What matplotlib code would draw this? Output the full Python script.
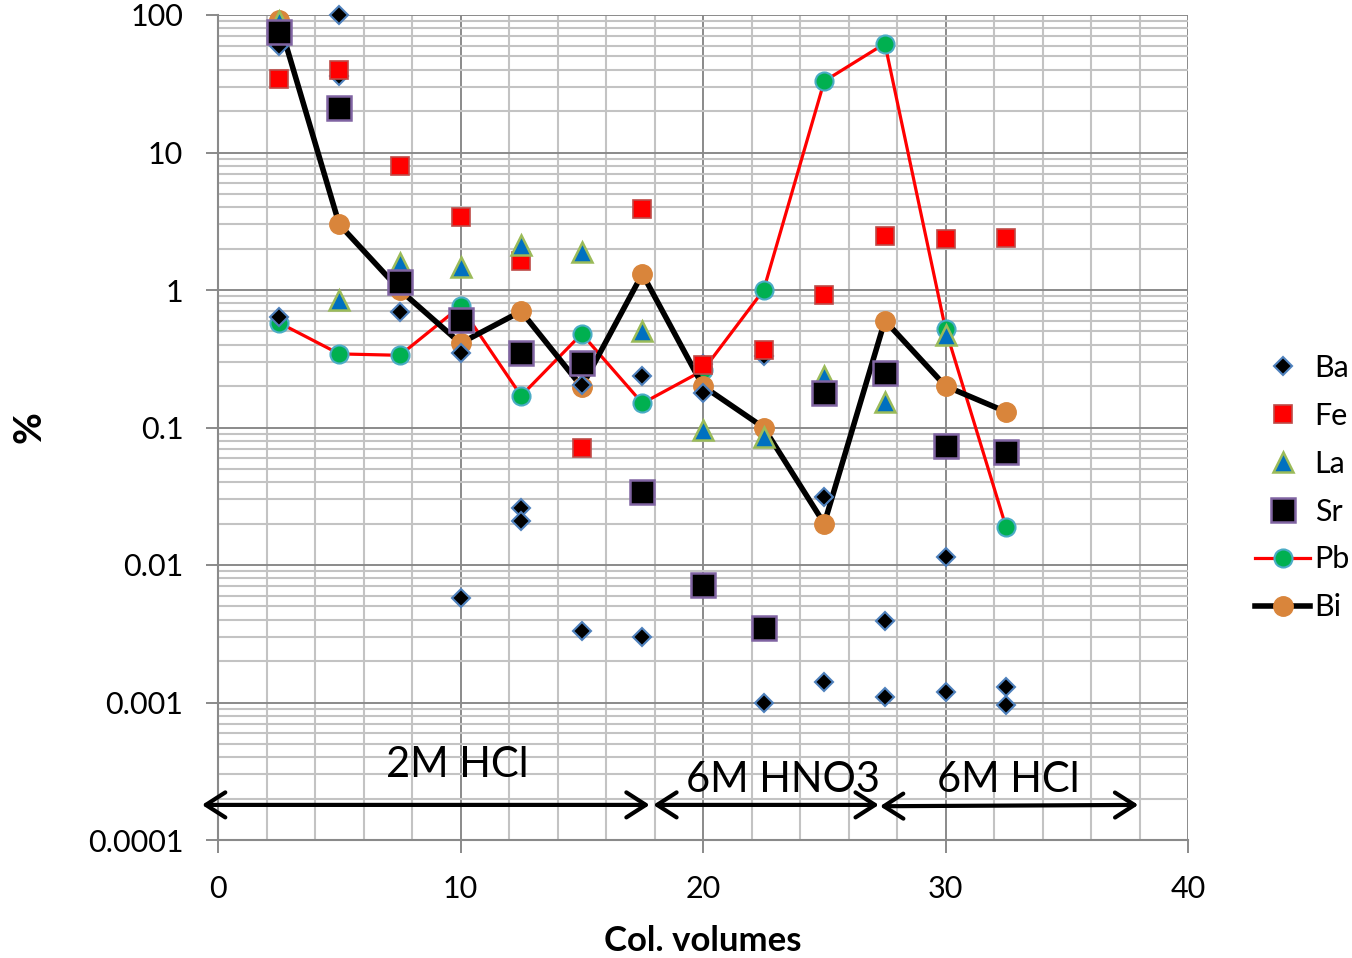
import matplotlib
matplotlib.use("Agg")
import matplotlib.pyplot as plt
from matplotlib.ticker import FixedLocator, MultipleLocator, LogLocator, NullFormatter

plt.rcParams['font.family'] = ['Lato', 'DejaVu Sans']

# ── data ──
cv = [2.5, 5, 7.5, 10, 12.5, 15, 17.5, 20, 22.5, 25, 27.5, 30, 32.5]

ba_x = [2.5, 2.5, 5, 5, 7.5, 10, 10, 12.5, 12.5, 15, 15, 17.5, 17.5,
        20, 20, 22.5, 22.5, 25, 25, 27.5, 27.5, 30, 30, 32.5, 32.5]
ba_y = [0.64, 60, 100, 36, 0.69, 0.35, 0.0058, 0.026, 0.021, 0.204, 0.0033,
        0.238, 0.003, 0.178, 0.29, 0.33, 0.001, 0.031, 0.0014, 0.0039, 0.0011,
        0.0115, 0.0012, 0.0013, 0.00096]

fe = [34.3, 40, 8.0, 3.38, 1.63, 0.0705, 3.88, 0.285, 0.366, 0.92, 2.48, 2.35, 2.39]
la_x = [2.5, 5, 7.5, 10, 12.5, 15, 17.5, 20, 22.5, 25, 27.5, 30]
la = [90, 0.85, 1.56, 1.48, 2.12, 1.9, 0.5, 0.096, 0.085, 0.237, 0.154, 0.47]
sr = [75.6, 21, 1.15, 0.605, 0.35, 0.296, 0.034, 0.0071, 0.0035, 0.177, 0.25, 0.073, 0.066]
pb = [0.58, 0.343, 0.335, 0.76, 0.17, 0.48, 0.15, 0.26, 1.0, 33, 62, 0.52, 0.0188]
bi = [92, 3.0, 1.0, 0.41, 0.70, 0.198, 1.31, 0.2, 0.1, 0.02, 0.6, 0.2, 0.13]

y_ticks = [1e-4, 1e-3, 1e-2, 1e-1, 1, 10, 100]
y_tick_labels = ["0.0001", "0.001", "0.01", "0.1", "1", "10", "100"]
x_ticks = [0, 10, 20, 30, 40]

fig = plt.figure(figsize=(13.52, 9.58), dpi=100)
ax = fig.add_axes([218 / 1352, 118 / 958, 970 / 1352, 825 / 958])
ax.set_yscale("log")
ax.set_xlim(0, 40)
ax.set_ylim(1e-4, 100)

# grid like Excel
ax.xaxis.set_major_locator(FixedLocator(x_ticks))
ax.xaxis.set_minor_locator(MultipleLocator(2))
ax.yaxis.set_major_locator(FixedLocator(y_ticks))
ax.set_yticklabels(y_tick_labels)
ax.yaxis.set_minor_locator(LogLocator(base=10, subs=range(2, 10), numticks=20))
ax.yaxis.set_minor_formatter(NullFormatter())
ax.set_axisbelow(True)
ax.grid(which="minor", color="#c3c3c3", lw=1.5)
ax.grid(which="major", color="#8a8a8a", lw=1.4)
ax.tick_params(which="minor", length=0)
ax.tick_params(which="major", length=9, width=1.4, color="#8a8a8a",
               labelsize=22, pad=16)
for s in ["top", "right"]:
    ax.spines[s].set_visible(False)
for s in ["left", "bottom"]:
    ax.spines[s].set_color("#8a8a8a")
    ax.spines[s].set_linewidth(1.5)

# ── series ──
pb_line, = ax.plot(cv, pb, color="#ff0000", lw=2.3, marker="o", ms=13,
                   mfc="#00b050", mec="#4bacc6", mew=1.5, zorder=3, clip_on=False)
bi_line, = ax.plot(cv, bi, color="black", lw=4, marker="o", ms=14,
                   mfc="#d9853b", mec="#d9853b", zorder=4, clip_on=False)
ba_pts, = ax.plot(ba_x, ba_y, ls="none", marker="D", ms=9.5,
                  mfc="black", mec="#4f81bd", mew=1.5, zorder=5, clip_on=False)
fe_pts, = ax.plot(cv, fe, ls="none", marker="s", ms=13.5,
                  mfc="#ff0000", mec="#be4b48", mew=1.2, zorder=6, clip_on=False)
la_pts, = ax.plot(la_x, la, ls="none", marker="^", ms=14,
                  mfc="#0070c0", mec="#9bbb59", mew=1.8, zorder=7, clip_on=False)
sr_pts, = ax.plot(cv, sr, ls="none", marker="s", ms=17,
                  mfc="black", mec="#8064a2", mew=1.8, zorder=8, clip_on=False)

# ── eluent annotations ──
arrow = dict(arrowstyle="<->,head_length=0.7,head_width=0.45", lw=3, color="black",
             shrinkA=0, shrinkB=0, mutation_scale=20)
ax.annotate("", xy=(-0.66, 1.8e-4), xytext=(17.8, 1.8e-4), arrowprops=arrow,
            annotation_clip=False)
ax.annotate("", xy=(17.95, 1.8e-4), xytext=(27.25, 1.8e-4), arrowprops=arrow,
            annotation_clip=False)
ax.annotate("", xy=(27.3, 1.76e-4), xytext=(37.95, 1.8e-4), arrowprops=arrow,
            annotation_clip=False)
ax.text(9.86, 3.5e-4, "2M HCl", fontsize=30, ha="center", va="center")
ax.text(23.3, 2.75e-4, "6M HNO3", fontsize=30, ha="center", va="center")
ax.text(32.6, 2.75e-4, "6M HCl", fontsize=30, ha="center", va="center")

ax.set_xlabel("Col. volumes", fontsize=25, fontweight="bold", labelpad=16)
ax.set_ylabel("%", fontsize=28, fontweight="bold", labelpad=30)

fig.legend(handles=[ba_pts, fe_pts, la_pts, sr_pts, pb_line, bi_line],
           labels=["Ba", "Fe", "La", "Sr", "Pb", "Bi"],
           loc="center left", bbox_to_anchor=(1255 / 1352, 0.491),
           frameon=False, fontsize=22, handlelength=1.8, handletextpad=0.15,
           labelspacing=0.65, borderaxespad=0, borderpad=0)

fig.savefig("out.png", dpi=100)
